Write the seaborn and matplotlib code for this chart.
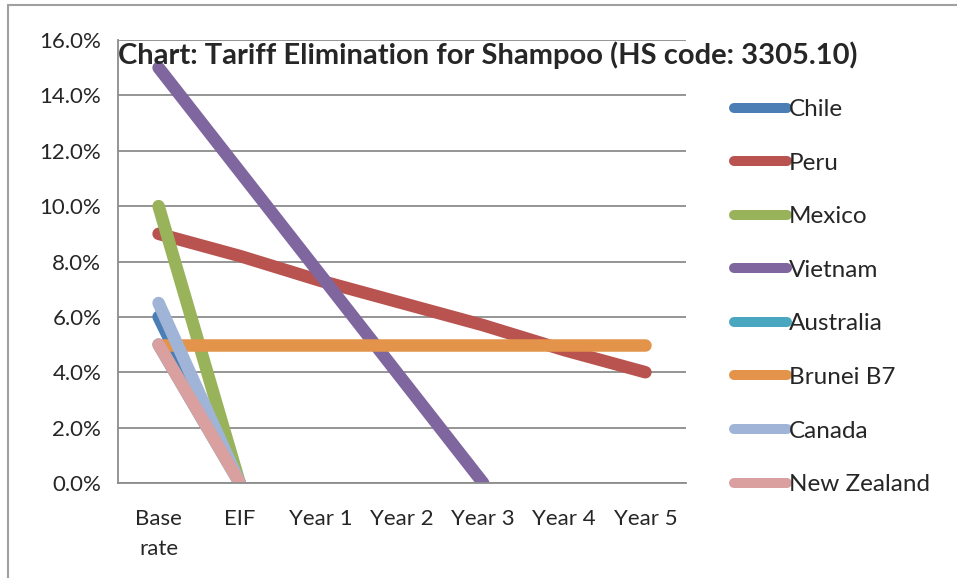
import numpy as np
import pandas as pd
import matplotlib
matplotlib.use("Agg")
import matplotlib.pyplot as plt
from matplotlib.lines import Line2D
import seaborn as sns

# Tariff schedule (percent) per stage; None where a schedule has ended
stages = ["Base\nrate", "EIF", "Year 1", "Year 2", "Year 3", "Year 4", "Year 5"]
chile = [6.0, 0.0, None, None, None, None, None]
peru = [9.0, 8.2, 7.3, 6.5, 5.7, 4.8, 4.0]
mexico = [10.0, 0.0, None, None, None, None, None]
vietnam = [15.0, 11.25, 7.5, 3.75, 0.0, None, None]
australia = [5.0, 0.0, None, None, None, None, None]
brunei_b7 = [5.0, 5.0, 5.0, 5.0, 5.0, 5.0, 5.0]
canada = [6.5, 0.0, None, None, None, None, None]
new_zealand = [5.0, 0.0, None, None, None, None, None]

countries = ["Chile", "Peru", "Mexico", "Vietnam", "Australia",
             "Brunei B7", "Canada", "New Zealand"]
series = [chile, peru, mexico, vietnam, australia, brunei_b7, canada, new_zealand]
colors = ["#4a7eb4", "#b9534f", "#98b35a", "#7f669e", "#4aa7c0",
          "#e3944a", "#9fb4d6", "#d9a09f"]

rows = []
for name, vals in zip(countries, series):
    for i, v in enumerate(vals):
        if v is not None:
            rows.append({"Country": name, "pos": i, "rate": v / 100.0})
df = pd.DataFrame(rows)

sns.set_style("white")
plt.rcParams["font.family"] = ["Lato", "DejaVu Sans"]

fig = plt.figure(figsize=(9.57, 5.78), dpi=100)
ax = fig.add_axes([118 / 957, 1 - 483 / 578, (686 - 118) / 957, (483 - 40) / 578])

sns.lineplot(data=df, x="pos", y="rate", hue="Country", hue_order=countries,
             palette=dict(zip(countries, colors)), estimator=None, sort=False,
             lw=9, solid_capstyle="round", solid_joinstyle="round",
             ax=ax, legend=True)

ax.set_xlim(-0.5, 6.5)
ax.set_ylim(0, 0.16)
yt = np.arange(0, 0.161, 0.02)
ax.set_yticks(yt)
ax.set_yticklabels([f"{v * 100:.1f}%" for v in yt])
ax.set_xticks(np.arange(-0.5, 6.6, 1.0))
ax.set_xticklabels([])
ax.set_xticks(np.arange(7), minor=True)
ax.set_xticklabels(stages, minor=True)
ax.tick_params(axis="x", which="minor", length=0, pad=19, labelsize=16)
ax.tick_params(axis="x", which="major", length=6, width=1.3, color="#8c8c8c", direction="out")
ax.tick_params(axis="y", length=6, width=1.3, color="#8c8c8c", direction="out",
               labelsize=16, pad=6)
for lab in ax.get_xticklabels(minor=True):
    lab.set_verticalalignment("top")
    lab.set_linespacing(1.6)
ax.set_xlabel("")
ax.set_ylabel("")
ax.grid(axis="y", color="#8c8c8c", lw=1.3)
ax.set_axisbelow(True)
for s in ["top", "right"]:
    ax.spines[s].set_visible(False)
for s in ["left", "bottom"]:
    ax.spines[s].set_color("#8c8c8c")
    ax.spines[s].set_linewidth(1.3)

handles, labels = ax.get_legend_handles_labels()
ax.get_legend().remove()
for h in handles:
    h.set_linewidth(7.2)
    h.set_solid_capstyle("round")
fig.legend(handles, labels, loc="upper left", bbox_to_anchor=(734 / 957, 1 - 99 / 578),
           frameon=False, fontsize=17.5, handlelength=2.17, handletextpad=0.1,
           labelspacing=1.34, borderaxespad=0, borderpad=0)

fig.text(488 / 957, 1 - 55 / 578, "Chart: Tariff Elimination for Shampoo (HS code: 3305.10)",
         ha="center", va="center", fontsize=21, fontweight="bold")

# Outer frame edges
fig.add_artist(Line2D([8 / 957, 8 / 957], [0, 1 - 5 / 578], transform=fig.transFigure,
                      color="#a0a0a0", lw=1.5))
fig.add_artist(Line2D([8 / 957, 1], [1 - 5 / 578, 1 - 5 / 578], transform=fig.transFigure,
                      color="#a0a0a0", lw=1.5))

fig.savefig("out.png", dpi=100)
